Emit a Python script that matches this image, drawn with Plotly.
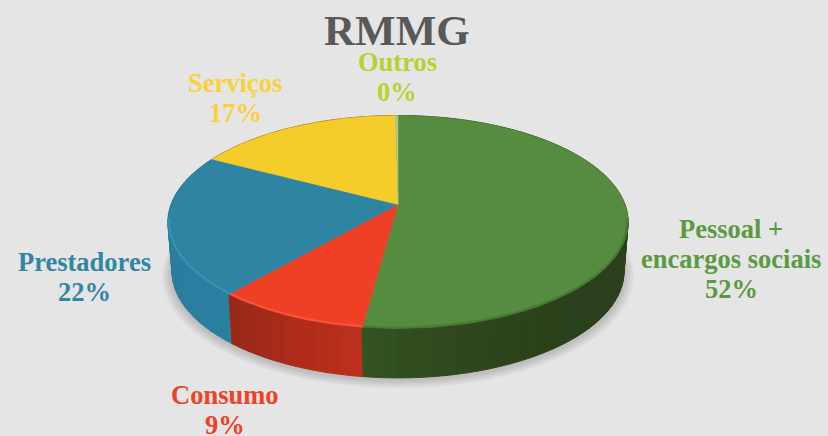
import numpy as np
import plotly.graph_objects as go

# Data
categories = ["Pessoal +<br>encargos sociais", "Consumo", "Prestadores", "Serviços", "Outros"]
values = [52.1, 9.2, 21.5, 17.0, 0.2]
title_text = "RMMG"

# Styles
top_colors = ["#558C3F", "#EF3F25", "#2F84A2", "#F5CD2A", "#A9C98A"]
text_colors = ["#5B9A42", "#F04127", "#2F86A5", "#F9D13C", "#B6D22F"]
rim_colors = ["rgba(60,100,44,0.45)", "rgba(250,90,66,0.75)", "rgba(54,155,188,0.7)", "#F5CD2A", "#A9C98A"]
wall_start = [(0.16, 0.25, 0.10), (0.60, 0.155, 0.09), (0.165, 0.47, 0.60), (0.5, 0.4, 0.1), (0.3, 0.4, 0.2)]
wall_end = [(0.21, 0.33, 0.13), (0.74, 0.19, 0.11), (0.17, 0.50, 0.62), (0.5, 0.4, 0.1), (0.3, 0.4, 0.2)]
label_pos = [(731, 229), (225, 395), (84, 262), (235, 83), (397, 62)]
LINE_GAP = 30
bg = "#E5E5E5"

CX, CY, RX, RY, K = 398.0, 204.5, 227.0, 103.6, 0.164
DEPTH, SHRINK = 49.5, 0.982


def project(theta, r=1.0):
    u, v = r * np.sin(theta), r * np.cos(theta)
    w = 1 + K * v
    return CX + RX * u / w, CY - RY * v / w


def project_bottom(theta, r=1.0):
    x, y = project(theta, r)
    return CX + (x - CX) * SHRINK, y + DEPTH


def rgb(c):
    return "rgb(%d,%d,%d)" % tuple(int(round(255 * a)) for a in c)


fig = go.Figure()


def poly(x, y, color, line=0.0):
    fig.add_trace(go.Scatter(x=x, y=y, mode="lines", fill="toself", fillcolor=color,
                             line=dict(color=color, width=line), hoverinfo="skip", showlegend=False))


# Soft shadow under the disc
all_t = np.linspace(0, 2 * np.pi, 241)
for i in range(8):
    sx, sy = project_bottom(all_t)
    grow = 1 + (8 - i) * 0.0055
    poly(CX + (sx - CX) * grow, (sy - CY - 12) * (1 + (8 - i) * 0.0065) + CY + 12 + 2,
         "rgba(90,90,90,0.035)")

total = sum(values)
edges = np.concatenate([[0], np.cumsum(values)]) / total * 2 * np.pi

# Side wall, drawn segment by segment so it can be shaded
segments = []
for i in range(len(values)):
    a, b = edges[i], edges[i + 1]
    n = max(1, int((b - a) / np.radians(2.5)))
    ts = np.linspace(a, b, n + 1)
    for j in range(n):
        f = j / max(1, n - 1)
        c = tuple(p + (q - p) * f for p, q in zip(wall_end[i], wall_start[i]))
        if i == 0:
            # green wall: lighter at the two visible ends, darkest right of centre
            vis = (ts[j] - np.pi / 2) / (b - np.pi / 2)
            m = min(1.0, abs(vis - 0.35) / 0.65) if vis >= 0 else 1.0
            c = tuple(q + (p - q) * m ** 2 for p, q in zip(wall_end[i], wall_start[i]))
        segments.append((ts[j], ts[j + 1], c))
segments.sort(key=lambda s: np.cos((s[0] + s[1]) / 2), reverse=True)
for t0, t1, c in segments:
    tt = np.array([t0, t1])
    xa, ya = project(tt)
    xb, yb = project_bottom(tt)
    poly([xa[0], xa[1], xb[1], xb[0], xa[0]], [ya[0], ya[1], yb[1], yb[0], ya[0]], rgb(c), 1)

# Top face
for i in range(len(values)):
    ts = np.linspace(edges[i], edges[i + 1], 120)
    x, y = project(ts)
    poly(np.r_[CX, x, CX], np.r_[CY, y, CY], top_colors[i], 0.5)

# Lit bevel along the front rim
for i in range(3):
    ts = np.linspace(edges[i], edges[i + 1], 120)
    ts = ts[np.cos(ts) < -0.12]
    if len(ts) < 2:
        continue
    x, y = project(ts, 0.995)
    fig.add_trace(go.Scatter(x=x, y=y, mode="lines", line=dict(color=rim_colors[i], width=2.2),
                             hoverinfo="skip", showlegend=False))

annotations = [dict(x=397, y=30, text="<b>%s</b>" % title_text, showarrow=False, xref="x", yref="y",
                    font=dict(family="Liberation Serif", size=43, color="#595959"))]
for name, val, (lx, ly), col in zip(categories, values, label_pos, text_colors):
    pct = "%d%%" % round(val / total * 100)
    for k, line in enumerate(name.split("<br>") + [pct]):
        annotations.append(dict(x=lx, y=ly + k * LINE_GAP, text="<b>%s</b>" % line, showarrow=False,
                                xref="x", yref="y", align="center",
                                font=dict(family="Liberation Serif", size=26.5, color=col)))

fig.update_layout(
    width=828, height=436, margin=dict(l=0, r=0, t=0, b=0),
    paper_bgcolor=bg, plot_bgcolor=bg, showlegend=False, annotations=annotations,
    xaxis=dict(range=[0, 828], visible=False, fixedrange=True),
    yaxis=dict(range=[436, 0], visible=False, fixedrange=True),
)
fig.write_html("out.html", post_script="document.body.style.margin='0';", config={"displayModeBar": False})
